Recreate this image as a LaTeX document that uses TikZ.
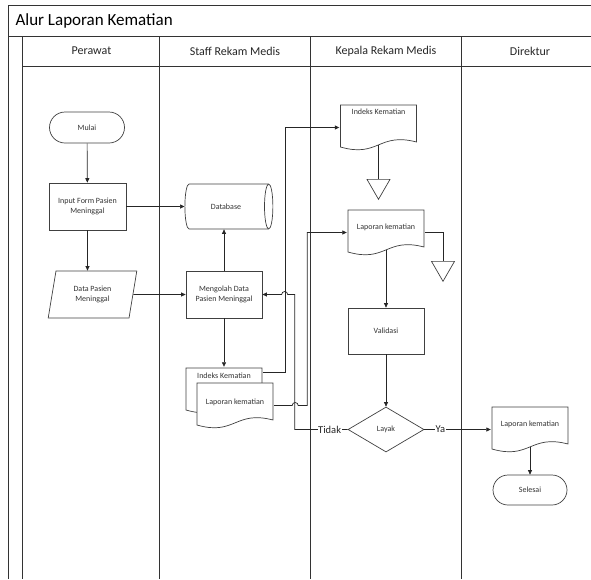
\documentclass[tikz,border=0pt]{standalone}
\usepackage{fontspec}
\setmainfont{Carlito}
\usetikzlibrary{arrows.meta,shapes.geometric,shapes.misc}

\begin{document}
\begin{tikzpicture}[x=1pt, y=-1pt,
  frm/.style={draw=black!80, line width=0.8pt},
  hdr/.style={font=\fontsize{12}{14}\selectfont, text=black!85},
  term/.style={rounded rectangle, draw=black!75, line width=0.7pt, minimum width=77pt, minimum height=31pt, inner sep=1pt, font=\fontsize{8}{9}\selectfont, text=black!80},
  proc/.style={rectangle, draw=black!75, line width=0.7pt, minimum width=77pt, minimum height=47pt, inner sep=1pt, align=center, font=\fontsize{8}{9.5}\selectfont, text=black!80},
  io/.style={trapezium, trapezium left angle=77, trapezium right angle=103, trapezium stretches=true, draw=black!75, line width=0.7pt, minimum width=89pt, minimum height=47pt, inner sep=1pt, align=center, font=\fontsize{8}{9.5}\selectfont, text=black!80},
  dbase/.style={cylinder, aspect=1.1, draw=black!75, line width=0.7pt, minimum width=45pt, minimum height=88pt, inner sep=1pt, font=\fontsize{8}{9}\selectfont, text=black!80},
  dec/.style={diamond, aspect=1.7, draw=black!75, line width=0.7pt, minimum width=76pt, minimum height=45pt, inner sep=0pt, font=\fontsize{8}{9}\selectfont, text=black!80},
  merge/.style={regular polygon, regular polygon sides=3, shape border rotate=180, draw=black!75, line width=0.7pt, minimum size=26.6pt, inner sep=0pt},
  docu/.style={rectangle, minimum width=78pt, minimum height=47pt, inner sep=1pt, text depth=#1, font=\fontsize{8}{9}\selectfont, text=black!80,
    path picture={
      \draw[draw=black!75, fill=white, line width=0.7pt]
        ([shift={(1pt,-1pt)}]path picture bounding box.north west)
        -- ([shift={(-1pt,-1pt)}]path picture bounding box.north east)
        -- ([shift={(-1pt,9pt)}]path picture bounding box.south east)
        .. controls ([shift={(-39pt,19pt)}]path picture bounding box.south east)
        and ([shift={(39pt,-7pt)}]path picture bounding box.south west)
        .. ([shift={(1pt,4pt)}]path picture bounding box.south west) -- cycle;}},
  docu/.default=11pt,
  arr/.style={-{Triangle[length=4.5pt,width=4pt]}, black!85, line width=0.7pt},
  ln/.style={black!85, line width=0.7pt},
  lbl/.style={fill=white, inner sep=0.5pt, font=\fontsize{10.5}{12}\selectfont, text=black!85}]

\useasboundingbox (0,0) rectangle (591,579);

%% swimlane frame
\draw[frm] (8,5) -- (591,5);
\draw[frm] (8,5) -- (8,579);
\draw[frm] (8,36) -- (591,36);
\draw[frm] (22.5,36) -- (22.5,579);
\draw[frm] (22.5,66) -- (591,66);
\foreach \x in {159.5,310.5,461.5}{\draw[frm] (\x,36) -- (\x,579);}
\node[font=\fontsize{17}{19}\selectfont, anchor=west] (title) at (12,21) {Alur Laporan Kematian};
\node[hdr] (h1) at (91.5,51) {Perawat};
\node[hdr] (h2) at (235,51) {Staff Rekam Medis};
\node[hdr] (h3) at (386,51) {Kepala Rekam Medis};
\node[hdr] (h4) at (530,51) {Direktur};

%% Perawat
\node[term] (mulai) at (87,127.5) {Mulai};
\node[proc] (input) at (87.5,206.5) {Input Form Pasien\\Meninggal};
\node[io] (datapasien) at (92.5,294.5) {Data Pasien\\Meninggal};

%% Staff Rekam Medis
\node[dbase] (database) at (226,206.5) {Database};
\node[proc, minimum width=76pt] (mengolah) at (224,294.5) {Mengolah Data\\Pasien Meninggal};
\node[docu=29pt] (indeks1) at (224,390.5) {Indeks Kematian};
\node[docu=7pt] (laporan1) at (235,405.5) {Laporan kematian};

%% Kepala Rekam Medis
\node[docu=31pt] (indeks2) at (378.5,127.5) {Indeks Kematian};
\node[merge, anchor=north] (tri1) at (378.5,179) {};
\node[docu] (laporan2) at (386,232.5) {Laporan kematian};
\node[merge, anchor=north] (tri2) at (443,261) {};
\node[proc, minimum width=76pt, minimum height=46pt] (validasi) at (386,331) {Validasi};
\node[dec] (layak) at (386,429.5) {Layak};

%% Direktur
\node[docu] (laporan3) at (530,429.5) {Laporan kematian};
\node[term, minimum width=76pt, minimum height=30pt] (selesai) at (530,490) {Selesai};

%% connectors
\draw[arr] (mulai) -- (input);
\draw[arr] (input.east) -- (input.east -| database.west);
\draw[arr] (input.south) -- (input.south |- datapasien.north);
\draw[arr] (datapasien.east) -- (mengolah.west);
\draw[arr] (mengolah.north) -- (mengolah.north |- database.south);
\draw[arr] (mengolah.south) -- (indeks1.north);
\draw[arr] ([yshift=-6pt]indeks1.north east) -- ++(22,0) |- (indeks2.west);
\draw[arr] (laporan1.east) -- ++(18,0) arc[start angle=180, end angle=360, radius=3] -- ++(9,0) |- (laporan2.west);
\draw[ln] ([yshift=6pt]indeks2.south) -- (tri1.north);
\draw[ln] (laporan2.east) -| (tri2.north);
\draw[arr] ([yshift=6pt]laporan2.south) -- (validasi.north);
\draw[arr] (validasi.south) -- (layak.north);
\draw[arr] (layak.west) -- node[lbl, pos=0.34] (tidak) {Tidak} ++(-53,0) -- ++(0,-135) -- ++(-7,0)
  arc[start angle=0, end angle=-180, radius=3] -- (mengolah.east);
\draw[arr] (layak.east) -- node[lbl, pos=0.24] (ya) {Ya} (laporan3.west);
\draw[arr] ([yshift=6pt]laporan3.south) -- (selesai.north);
\end{tikzpicture}
\end{document}
